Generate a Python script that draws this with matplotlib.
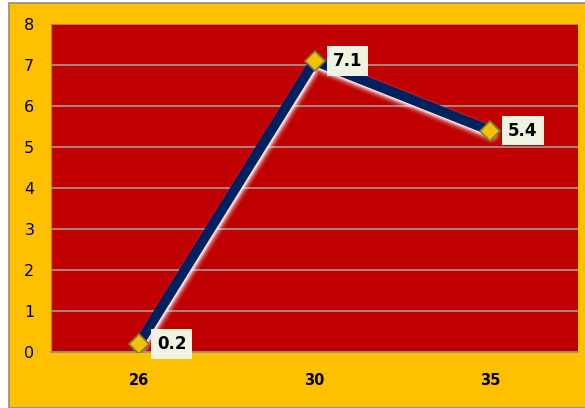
import matplotlib.pyplot as plt
import matplotlib.transforms as mtransforms
from matplotlib.patches import Rectangle
import numpy as np

# Data
categories = ["26", "30", "35"]
values = [0.2, 7.1, 5.4]
y_ticks = [0, 1, 2, 3, 4, 5, 6, 7, 8]

fig = plt.figure(figsize=(5.85, 4.08), dpi=100, facecolor="white")

# Yellow chart area with thin grey border
fig.patches.append(Rectangle((9 / 585, 0), 1, 1 - 3 / 408, transform=fig.transFigure,
                             facecolor="#FFC000", edgecolor="#8C8C8C", linewidth=1.2,
                             zorder=-10))

ax = fig.add_axes([51 / 585, 1 - 352 / 408, 527 / 585, 328 / 408])
ax.set_facecolor("#C00000")

x = np.arange(len(categories))
ax.set_xlim(-0.5, len(categories) - 0.5)
ax.set_ylim(0, 8)

# Gridlines
ax.set_yticks(y_ticks)
ax.yaxis.grid(True, color="#A6A6A6", linewidth=1.1)
ax.set_axisbelow(True)
ax.xaxis.grid(False)

for side in ["top", "right"]:
    ax.spines[side].set_visible(False)
ax.spines["left"].set_color("#8C8C8C")
ax.spines["bottom"].set_color("#8C8C8C")
ax.spines["bottom"].set_linewidth(1.2)

ax.tick_params(axis="both", length=0, labelsize=11.5, colors="black")
ax.tick_params(axis="y", pad=12)
ax.tick_params(axis="x", pad=15)
ax.set_xticks(x)
ax.set_xticklabels(categories, fontweight="bold", fontsize=10.5)

# Soft white glow under the line, shifted slightly down-right
shift = ax.transData + mtransforms.ScaledTranslation(1.5 / 100, -3.5 / 100, fig.dpi_scale_trans)
for lw, a in [(13, 0.08), (11, 0.12), (9, 0.2), (7, 0.45), (5, 0.7)]:
    ax.plot(x, values, color="white", linewidth=lw, alpha=a, solid_capstyle="round",
            solid_joinstyle="round", zorder=2, transform=shift)

ax.plot(x, values, color="#002060", linewidth=7, solid_joinstyle="miter", zorder=3)

ax.plot(x, values, linestyle="none", marker="D", markersize=10,
        markerfacecolor="#F2C200", markeredgecolor="#7A7A3A", markeredgewidth=1.2,
        zorder=4)

for xi, v in zip(x, values):
    ax.annotate(f"{v}", (xi, v), xytext=(13, 0), textcoords="offset points",
                ha="left", va="center", fontsize=12, fontweight="bold",
                bbox=dict(boxstyle="square,pad=0.35", facecolor="#EEF3E2", edgecolor="none"),
                zorder=5, annotation_clip=False)

fig.savefig("out.png", dpi=100, facecolor="white")
